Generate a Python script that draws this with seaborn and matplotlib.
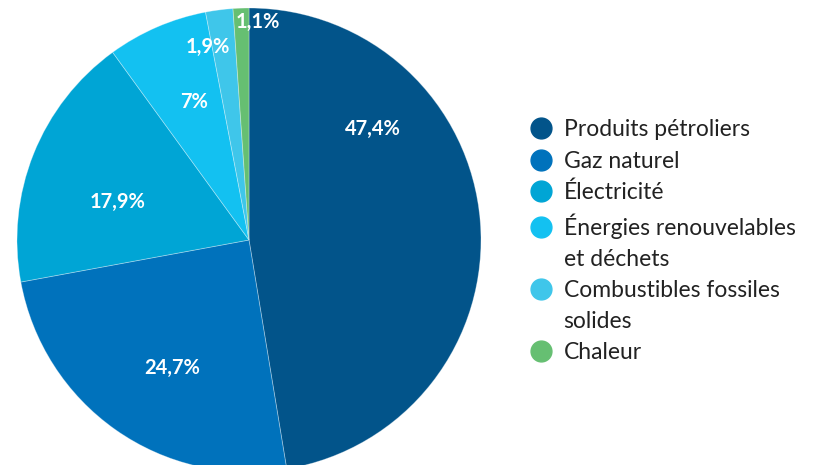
import matplotlib.pyplot as plt
import seaborn as sns
import numpy as np
from matplotlib.lines import Line2D

sns.set_theme(style="white")
plt.rcParams['font.family'] = ['Lato', 'DejaVu Sans']

# data
categories = ["Produits pétroliers", "Gaz naturel", "Électricité",
              "Énergies renouvelables\net déchets", "Combustibles fossiles\nsolides", "Chaleur"]
shares = [47.4, 24.7, 17.9, 7, 1.9, 1.1]
colors = ["#02548a", "#0072bc", "#00a5d5", "#13c1f1", "#3fc6ea", "#66bf72"]

# label placement (angle in degrees, radius as fraction of pie radius)
lbl_ang = [42, -121, 164, 111.6, 102, 87.6]
lbl_rad = [0.716, 0.642, 0.59, 0.642, 0.85, 0.94]

fig = plt.figure(figsize=(8.25, 4.65), dpi=100)
ax = fig.add_axes([17 / 825, -7 / 465, 464 / 825, 464 / 465])

wedges, texts = ax.pie(
    shares, colors=colors, startangle=90, counterclock=False, radius=1,
    wedgeprops=dict(linewidth=0.6, edgecolor=(1, 1, 1, 0.35)),
)
ax.set_xlim(-1, 1)
ax.set_ylim(-1, 1)
ax.set_aspect("equal")
ax.axis("off")

for v, a, r in zip(shares, lbl_ang, lbl_rad):
    t = np.deg2rad(a)
    ax.text(r * np.cos(t), r * np.sin(t), f"{v:g}".replace(".", ",") + "%",
            ha="center", va="center", color="white", fontsize=14.5, fontweight="bold")

# legend: one row per text line, marker only on the first line of each entry
handles, labels = [], []
for c, name in zip(colors, categories):
    for i, line in enumerate(name.split("\n")):
        handles.append(Line2D([0], [0], marker="o", linestyle="", markersize=15,
                              markerfacecolor=c, markeredgecolor=c, alpha=1 if i == 0 else 0))
        labels.append(line)

fig.legend(handles, labels, loc="upper left", bbox_to_anchor=(520 / 825, 1 - 108 / 465),
           frameon=False, fontsize=16.5, handlelength=0.8, handletextpad=0.6,
           labelspacing=0.44, borderpad=0, labelcolor="#222222")

fig.savefig("out.png", dpi=100)
